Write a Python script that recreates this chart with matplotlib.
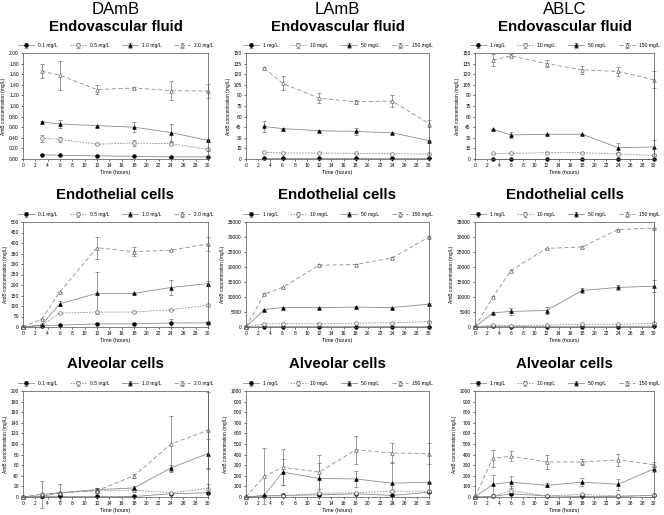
import numpy as np
import matplotlib
matplotlib.use("Agg")
import matplotlib.pyplot as plt
from matplotlib.ticker import FormatStrFormatter

plt.rcParams['font.family'] = ['Liberation Sans', 'DejaVu Sans']

t_fluid = [3, 6, 12, 18, 24, 30]
t_cells = [0, 3, 6, 12, 18, 24, 30]

damb_labels = ['0.1 mg/L', '0.5 mg/L', '1.0 mg/L', '2.0 mg/L']
lipid_labels = ['1 mg/L', '10 mg/L', '50 mg/L', '150 mg/L']
col_titles = ['DAmB', 'LAmB', 'ABLC']
row_titles = ['Endovascular fluid', 'Endothelial cells', 'Alveolar cells']

# endovascular fluid
damb_fluid = [[0.08, 0.07, 0.06, 0.05, 0.04, 0.04],
              [0.39, 0.37, 0.28, 0.30, 0.29, 0.18],
              [0.70, 0.66, 0.63, 0.60, 0.50, 0.35],
              [1.66, 1.58, 1.31, 1.34, 1.29, 1.28]]
damb_fluid_err = [[0.01, 0.01, 0.0, 0.0, 0.0, 0.0],
                  [0.06, 0.05, 0.02, 0.05, 0.03, 0.02],
                  [0.01, 0.07, 0.02, 0.09, 0.16, 0.02],
                  [0.13, 0.27, 0.08, 0.02, 0.18, 0.13]]
lamb_fluid = [[1, 1, 1, 1, 1, 1],
              [9.5, 8.5, 8.5, 8, 7.5, 7],
              [46, 43, 40, 39, 37, 26],
              [129, 107, 86, 81, 82, 50]]
lamb_fluid_err = [[0, 0, 0, 0, 0, 0],
                  [0.5, 0.5, 0.5, 0.5, 0.5, 0.5],
                  [8, 1, 1, 5, 1, 1],
                  [1, 10, 7, 3, 9, 5]]
ablc_fluid = [[0.5, 0.5, 0.5, 0.5, 0.5, 0.5],
              [8, 8, 9, 9, 7, 5],
              [42, 34, 35, 35, 16, 17],
              [140, 146, 135, 126, 124, 112]]
ablc_fluid_err = [[0, 0, 0, 0, 0, 0],
                  [1, 1, 1, 1, 1, 1],
                  [1, 4, 1, 1, 6, 10],
                  [8, 2, 5, 6, 6, 12]]

# endothelial cells
damb_endo = [[0, 6, 9, 15, 15, 19, 20],
             [0, 8, 66, 71, 71, 82, 104],
             [0, 10, 111, 160, 160, 188, 207],
             [0, 37, 168, 378, 358, 366, 396]]
damb_endo_err = [[0, 0, 0, 3, 2, 20, 5],
                 [0, 0, 2, 5, 3, 3, 3],
                 [0, 0, 12, 100, 3, 35, 13],
                 [0, 0, 0, 52, 22, 3, 32]]
lamb_endo = [[0, 100, 100, 100, 100, 100, 100],
             [0, 1000, 1100, 1100, 1300, 1400, 1800],
             [0, 5800, 6500, 6500, 6600, 6500, 7600],
             [0, 11000, 13200, 20600, 20800, 23100, 30000]]
lamb_endo_err = [[0, 0, 0, 0, 0, 0, 0],
                 [0, 100, 100, 100, 100, 100, 100],
                 [0, 300, 200, 200, 300, 200, 300],
                 [0, 300, 300, 300, 300, 300, 300]]
ablc_endo = [[0, 200, 150, 100, 100, 100, 300],
             [0, 600, 500, 600, 900, 900, 1200],
             [0, 4700, 5200, 5500, 12200, 13200, 13600],
             [0, 10000, 18800, 26200, 26700, 32500, 33000]]
ablc_endo_err = [[0, 0, 0, 0, 0, 0, 0],
                 [0, 100, 100, 100, 100, 100, 300],
                 [0, 300, 1200, 1300, 900, 800, 2000],
                 [0, 300, 300, 300, 300, 300, 0]]

# alveolar cells
damb_alv = [[0, 1, 1, 1, 1, 6, 8],
            [0, 5, 8, 12, 13, 8, 16],
            [0, 1, 8, 14, 17, 55, 82],
            [0, 5, 8, 12, 40, 100, 126]]
damb_alv_err = [[0, 0, 0, 0, 0, 2, 2],
                [0, 25, 16, 5, 3, 2, 8],
                [0, 0, 0, 3, 3, 5, 27],
                [0, 0, 0, 5, 4, 52, 73]]
lamb_alv = [[0, 10, 15, 20, 30, 15, 45],
            [0, 10, 10, 35, 40, 55, 55],
            [0, 15, 235, 175, 170, 130, 140],
            [0, 195, 280, 235, 445, 415, 410]]
lamb_alv_err = [[0, 0, 5, 5, 5, 5, 10],
                [0, 5, 5, 10, 10, 10, 10],
                [0, 0, 124, 150, 73, 200, 0],
                [0, 265, 170, 160, 134, 96, 100]]
ablc_alv = [[0, 5, 30, 10, 5, 5, 15],
            [0, 5, 60, 10, 25, 10, 15],
            [0, 120, 140, 110, 140, 120, 265],
            [0, 365, 385, 330, 330, 350, 305]]
ablc_alv_err = [[0, 0, 10, 0, 0, 0, 5],
                [0, 0, 40, 0, 5, 0, 5],
                [0, 90, 55, 20, 40, 50, 30],
                [0, 80, 50, 70, 30, 60, 25]]

panels = [
    [(t_fluid, damb_fluid, damb_fluid_err, damb_labels, 2.0, 0.2),
     (t_fluid, lamb_fluid, lamb_fluid_err, lipid_labels, 150, 15),
     (t_fluid, ablc_fluid, ablc_fluid_err, lipid_labels, 150, 15)],
    [(t_cells, damb_endo, damb_endo_err, damb_labels, 500, 50),
     (t_cells, lamb_endo, lamb_endo_err, lipid_labels, 35000, 5000),
     (t_cells, ablc_endo, ablc_endo_err, lipid_labels, 35000, 5000)],
    [(t_cells, damb_alv, damb_alv_err, damb_labels, 200, 20),
     (t_cells, lamb_alv, lamb_alv_err, lipid_labels, 1000, 100),
     (t_cells, ablc_alv, ablc_alv_err, lipid_labels, 1000, 100)],
]

styles = [('o', 'black', '-'),
          ('o', 'white', (0, (2, 1.5))),
          ('^', 'black', '-'),
          ('^', 'white', (0, (5, 3)))]

W, H = 664, 515
fig = plt.figure(figsize=(W / 100, H / 100), dpi=100)

col_x = [(23, 208), (246, 429), (475, 654)]
row_y = [(53, 159), (222, 327), (391, 497)]
title_y = [27, 195, 364]

for c, name in enumerate(col_titles):
    xc = (col_x[c][0] + col_x[c][1]) / 2 / W
    fig.text(xc, 1 - 9 / H, name, ha='center', va='center', fontsize=12)

for r in range(3):
    for c in range(3):
        x0, x1 = col_x[c]
        y0, y1 = row_y[r]
        ax = fig.add_axes([x0 / W, 1 - y1 / H, (x1 - x0) / W, (y1 - y0) / H])
        t, vals, errs, labels, ymax, ystep = panels[r][c]
        for k in range(4):
            m, fc, ls = styles[k]
            ax.errorbar(t, vals[k], yerr=errs[k], color='0.55', ecolor='0.45',
                        elinewidth=0.5, capsize=1.5, capthick=0.5, lw=0.6,
                        linestyle=ls, marker=m, markersize=2.6,
                        markerfacecolor=fc, markeredgecolor='black' if fc == 'black' else '0.4',
                        markeredgewidth=0.5, label=labels[k], clip_on=False)
        ax.set_xlim(0, 30)
        ax.set_ylim(0, ymax)
        ax.set_xticks(np.arange(0, 31, 2))
        ax.set_yticks(np.arange(0, ymax + ystep / 2, ystep))
        if r == 0 and c == 0:
            ax.yaxis.set_major_formatter(FormatStrFormatter('%.2f'))
        ax.tick_params(labelsize=3.5, length=1.5, width=0.4, pad=1.5)
        for s in ax.spines.values():
            s.set_linewidth(0.5)
            s.set_color('0.3')
        ax.set_xlabel('Time (hours)', fontsize=3.8, labelpad=1.5)
        ax.set_ylabel('AmB concentration (mg/L)', fontsize=3.5, labelpad=2)
        ax.legend(loc='lower center', bbox_to_anchor=(0.5, 1.03), ncol=4,
                  frameon=False, fontsize=3.6, handlelength=3.2,
                  columnspacing=2.5, handletextpad=0.8, borderaxespad=0)
        xc = (x0 + x1) / 2 / W
        fig.text(xc, 1 - title_y[r] / H, row_titles[r], ha='center', va='center',
                 fontsize=10.8, fontweight='bold')

fig.savefig('out.png', dpi=100)
